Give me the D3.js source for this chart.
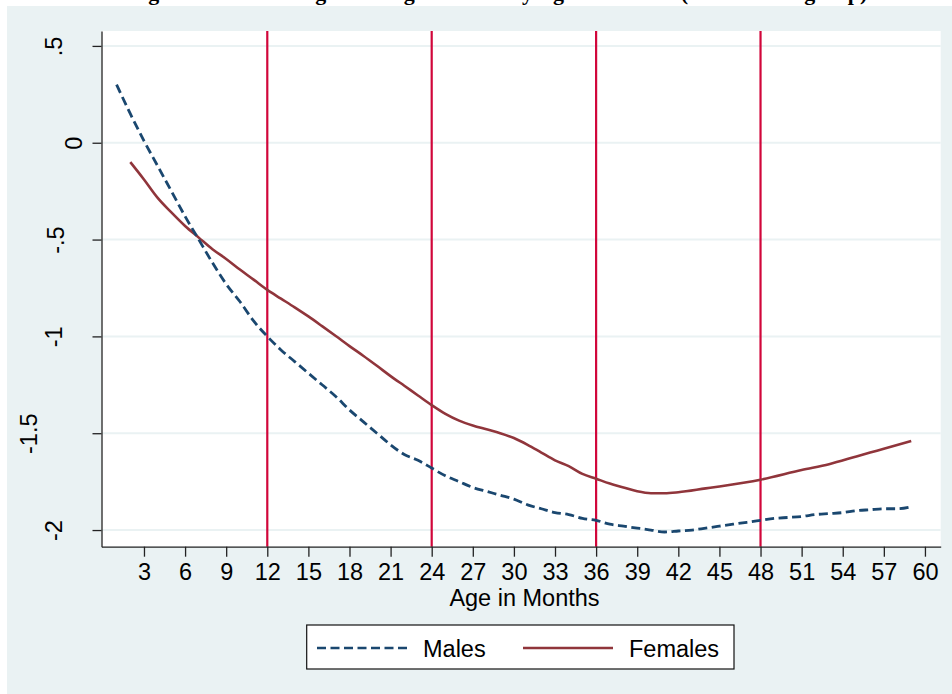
<!DOCTYPE html>
<html>
<head>
<meta charset="utf-8">
<script src="https://cdn.jsdelivr.net/npm/d3@7"></script>
<style>
  body { margin: 0; background: #fff; }
  svg { display: block; font-family: "Liberation Sans", Arial, sans-serif; }
</style>
</head>
<body>
<div id="chart"></div>
<script>
const MALE_MONTHS = [1, 2, 3, 4, 5, 6, 7, 8, 9, 10, 11, 12, 13, 14, 15, 16, 17, 18, 19, 20,
  21, 22, 23, 24, 25, 26, 27, 28, 29, 30, 31, 32, 33, 34, 35, 36, 37, 38, 39, 40,
  41, 42, 43, 44, 45, 46, 47, 48, 49, 50, 51, 52, 53, 54, 55, 56, 57, 58, 59]
const MALE_Z = [0.30, 0.15, 0.01, -0.12, -0.25, -0.38, -0.50, -0.62, -0.73, -0.82, -0.92, -1.00,
  -1.07, -1.13, -1.19, -1.25, -1.31, -1.38, -1.44, -1.50, -1.56, -1.61, -1.64, -1.68,
  -1.72, -1.75, -1.78, -1.80, -1.82, -1.84, -1.87, -1.89, -1.91, -1.92, -1.94, -1.95,
  -1.97, -1.98, -1.99, -2.00, -2.01, -2.005, -2.00, -1.99, -1.98, -1.97, -1.96, -1.95,
  -1.94, -1.935, -1.93, -1.92, -1.915, -1.91, -1.90, -1.895, -1.89, -1.89, -1.88]

const FEMALE_MONTHS = [2, 3, 4, 5, 6, 7, 8, 9, 10, 11, 12, 13, 14, 15, 16, 17, 18, 19, 20,
  21, 22, 23, 24, 25, 26, 27, 28, 29, 30, 31, 32, 33, 34, 35, 36, 37, 38, 39, 40,
  41, 42, 44, 45, 48, 51, 53, 55, 56, 57, 59]
const FEMALE_Z = [-0.10, -0.19, -0.285, -0.36, -0.43, -0.49, -0.55, -0.60, -0.655, -0.707, -0.76,
  -0.805, -0.85, -0.897, -0.947, -0.998, -1.05, -1.10, -1.152, -1.205, -1.255, -1.305, -1.355,
  -1.40, -1.435, -1.46, -1.48, -1.50, -1.525, -1.56, -1.60, -1.64, -1.67, -1.71, -1.735,
  -1.76, -1.78, -1.80, -1.81, -1.81, -1.805, -1.785, -1.775, -1.74, -1.69, -1.66, -1.62,
  -1.60, -1.58, -1.54]

const X_TICKS = d3.range(3, 61, 3)
const Y_TICKS = [0.5, 0, -0.5, -1, -1.5, -2]
const Y_LABELS = [".5", "0", "-.5", "-1", "-1.5", "-2"]
const AGE_LINES = [12, 24, 36, 48]
const SERIES_NAMES = ["Males", "Females"]
const TITLE = "Figure 5: Mean Weight-for-Age Z-Score by Age in Months (Full Cohort group)"
const X_TITLE = "Age in Months"

const W = 952, H = 694
const plot = {left: 101.5, right: 940.7, top: 31, bottom: 546.7}
const MALE_COLOR = "#1a476f", FEMALE_COLOR = "#90353b", AGE_COLOR = "#d1063a"
const BG = "#eaf2f3"

let svg = d3.select("#chart").append("svg").attr("width", W).attr("height", H)

// title sits above the page edge, only its descenders show (as in the source)
svg.append("text").attr("x", 498).attr("y", 0)
  .attr("text-anchor", "middle")
  .style("font-family", "'Liberation Serif', 'Times New Roman', serif")
  .style("font-weight", "bold").style("font-size", "22px")
  .text(TITLE)

// outer graph region
svg.append("rect").attr("x", 7).attr("y", 6).attr("width", W - 7).attr("height", H - 6).attr("fill", BG)
// plot region
svg.append("rect").attr("x", plot.left).attr("y", plot.top)
  .attr("width", plot.right - plot.left).attr("height", plot.bottom - plot.top).attr("fill", "#fff")

let xScale = d3.scaleLinear().domain([-0.1, 61.15]).range([plot.left, plot.right])
let yScale = d3.scaleLinear().domain([-2.086, 0.577]).range([plot.bottom, plot.top])

// grid lines
svg.append("g").selectAll("line").data(Y_TICKS).enter().append("line")
  .attr("x1", plot.left).attr("x2", plot.right)
  .attr("y1", d => yScale(d)).attr("y2", d => yScale(d))
  .attr("stroke", BG).attr("stroke-width", 2)

// vertical age markers
svg.append("g").selectAll("line").data(AGE_LINES).enter().append("line")
  .attr("x1", d => xScale(d)).attr("x2", d => xScale(d))
  .attr("y1", plot.top).attr("y2", plot.bottom)
  .attr("stroke", AGE_COLOR).attr("stroke-width", 2.2)

// curves
let line = d3.line().x(d => xScale(d[0])).y(d => yScale(d[1])).curve(d3.curveMonotoneX)
let males = MALE_MONTHS.map((m, i) => [m, MALE_Z[i]])
let females = FEMALE_MONTHS.map((m, i) => [m, FEMALE_Z[i]])

svg.append("path").datum(females).attr("d", line)
  .attr("fill", "none").attr("stroke", FEMALE_COLOR).attr("stroke-width", 2.6)
svg.append("path").datum(males).attr("d", line)
  .attr("fill", "none").attr("stroke", MALE_COLOR).attr("stroke-width", 2.8)
  .attr("stroke-dasharray", "9,4.5")

// x axis
let xAxis = d3.axisBottom(xScale).tickValues(X_TICKS).tickSize(10).tickSizeOuter(0).tickPadding(7)
let gx = svg.append("g").attr("transform", "translate(0," + plot.bottom + ")").call(xAxis)
gx.selectAll("text").style("font-size", "23.5px").attr("fill", "#000")
gx.selectAll("line, path").attr("stroke", "#222").attr("stroke-width", 1.3)

svg.append("text").attr("x", 524.5).attr("y", 606).attr("text-anchor", "middle")
  .style("font-size", "23.5px").text(X_TITLE)

// y axis with rotated labels; their right edge depends on label length like the source
const LABEL_RIGHT = {1: 82, 2: 62, 3: 64, 4: 37}
let yAxis = d3.axisLeft(yScale).tickValues(Y_TICKS).tickFormat((d, i) => Y_LABELS[i]).tickSize(9).tickSizeOuter(0)
let gy = svg.append("g").attr("transform", "translate(" + plot.left + ",0)").call(yAxis)
gy.selectAll("line, path").attr("stroke", "#222").attr("stroke-width", 1.3)
gy.selectAll("text")
  .attr("x", 0).attr("dy", 0).attr("fill", "#000")
  .attr("text-anchor", "middle")
  .style("font-size", "23.5px")
  .attr("transform", (d, i) => "translate(" + (LABEL_RIGHT[Y_LABELS[i].length] - plot.left) + ",0) rotate(-90)")

// legend
let legend = svg.append("g")
legend.append("rect").attr("x", 306.7).attr("y", 625).attr("width", 427.3).attr("height", 44)
  .attr("fill", "#fff").attr("stroke", "#111").attr("stroke-width", 1.2)
let items = [
  {name: SERIES_NAMES[0], color: MALE_COLOR, dash: "9,4.5", x: 317},
  {name: SERIES_NAMES[1], color: FEMALE_COLOR, dash: null, x: 523}
]
items.forEach(it => {
  legend.append("line").attr("x1", it.x).attr("x2", it.x + 90).attr("y1", 648).attr("y2", 648)
    .attr("stroke", it.color).attr("stroke-width", 2.6).attr("stroke-dasharray", it.dash)
  legend.append("text").attr("x", it.x + 106).attr("y", 656.5)
    .style("font-size", "23.5px").text(it.name)
})
</script>
</body>
</html>
